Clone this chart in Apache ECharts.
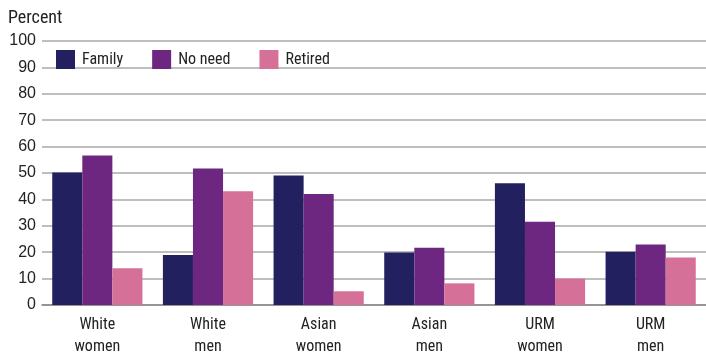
<!DOCTYPE html>
<html><head><meta charset="utf-8">
<script src="https://cdn.jsdelivr.net/npm/echarts@6/dist/echarts.min.js"></script>
<style>html,body{margin:0;padding:0;background:#fff}#c{width:706px;height:358px}</style>
</head><body><div id="c"></div>
<script>
const categories = ['White\nwomen','White\nmen','Asian\nwomen','Asian\nmen','URM\nwomen','URM\nmen'];
const family = [50.2, 18.9, 49.1, 19.9, 46.1, 20.2];
const noNeed = [56.6, 51.7, 42.0, 21.7, 31.5, 22.9];
const retired = [13.9, 43.1, 5.2, 8.2, 10.0, 18.0];
const seriesNames = ['Family','No need','Retired'];
const colors = ['#232060','#6e2780','#d57099'];
const FONT = '"Roboto Condensed", Roboto, "Liberation Sans", sans-serif';
const NUMFONT = '"Liberation Sans", Arial, sans-serif';
const chart = echarts.init(document.getElementById('c'), null, {renderer:'canvas'});
chart.setOption({
  animation:false,
  textStyle:{fontFamily:FONT},
  grid:{left:42,right:0,top:41,bottom:50},
  title:{text:'Percent',left:3,top:4,textStyle:{fontFamily:FONT,fontSize:18,fontWeight:'normal',color:'#222'}},
  legend:{left:51,top:45,itemWidth:19,itemHeight:19,itemGap:29,icon:'rect',
    textStyle:{fontFamily:FONT,fontSize:16,color:'#222',padding:[0,0,0,2]},
    data:seriesNames},
  xAxis:{type:'category',data:categories,
    axisLine:{lineStyle:{color:'#888',width:1.5}},axisTick:{show:false},
    axisLabel:{fontFamily:FONT,fontSize:16,color:'#222',lineHeight:22,margin:9}},
  yAxis:{type:'value',min:0,max:100,interval:10,
    axisLine:{show:false},axisTick:{show:false},
    splitLine:{lineStyle:{color:'#a8a8a8',width:1.5}},
    axisLabel:{fontFamily:NUMFONT,fontSize:16,color:'#222',margin:6}},
  series:[
    {name:seriesNames[0],type:'bar',data:family,itemStyle:{color:colors[0]},barGap:'0%',barCategoryGap:'18.5%'},
    {name:seriesNames[1],type:'bar',data:noNeed,itemStyle:{color:colors[1]},barGap:'0%',barCategoryGap:'18.5%'},
    {name:seriesNames[2],type:'bar',data:retired,itemStyle:{color:colors[2]},barGap:'0%',barCategoryGap:'18.5%'}
  ]
});
</script></body></html>
